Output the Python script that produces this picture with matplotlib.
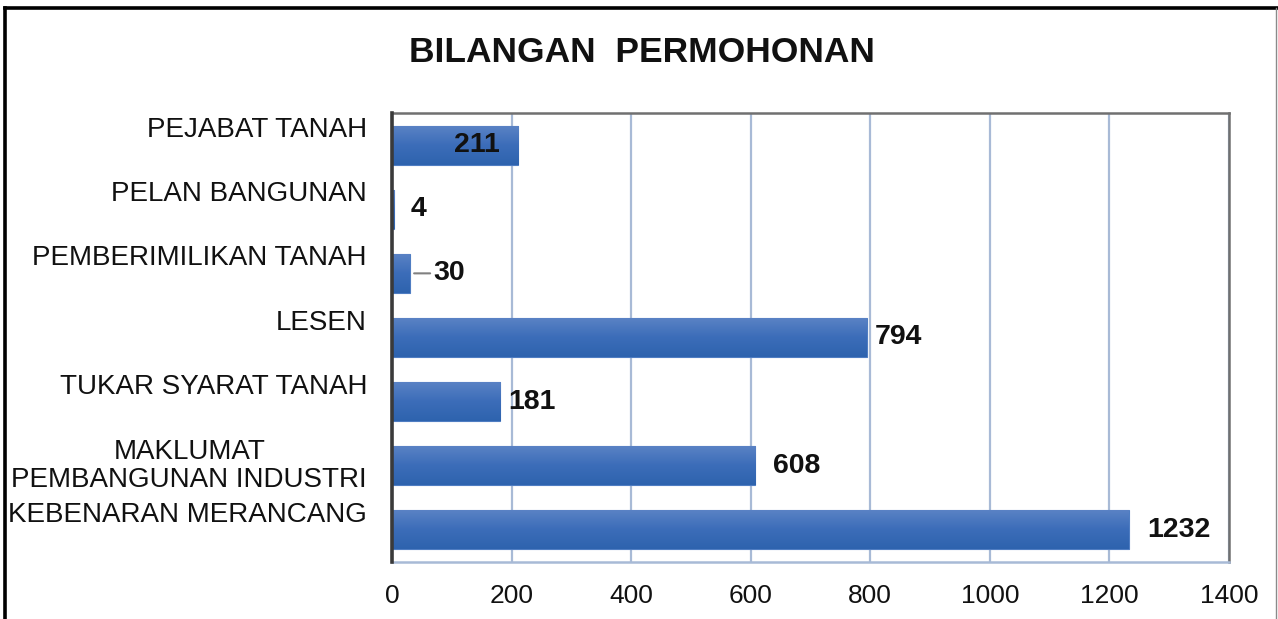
import matplotlib
matplotlib.use("Agg")
import matplotlib.pyplot as plt
from matplotlib.colors import LinearSegmentedColormap
from matplotlib.transforms import ScaledTranslation
from matplotlib.lines import Line2D
import numpy as np

# data, top to bottom as in the chart
categories = [
    "PEJABAT TANAH",
    "PELAN BANGUNAN",
    "PEMBERIMILIKAN TANAH",
    "LESEN",
    "TUKAR SYARAT TANAH",
    "MAKLUMAT\nPEMBANGUNAN INDUSTRI",
    "KEBENARAN MERANCANG",
]
values = [211, 4, 30, 794, 181, 608, 1232]
x_ticks = [0, 200, 400, 600, 800, 1000, 1200, 1400]
title = "BILANGAN  PERMOHONAN"

# label placement (pixels from bar end), style only
label_dx = [-18, 16, 23, 8, 8, 18, 19]

plt.rcParams["font.family"] = ["Liberation Sans", "DejaVu Sans"]

fig = plt.figure(figsize=(12.78, 6.19), dpi=100)
ax = fig.add_axes([392 / 1278, 57 / 619, 837 / 1278, 449 / 619])

n = len(categories)
ypos = np.arange(n)[::-1]  # first category at top

bars = ax.barh(ypos, values, height=0.61, color="#3a6cb8",
               edgecolor="#4f7dc2", linewidth=0.8, zorder=3)

# vertical gradient inside each bar, lighter on top
grad_cmap = LinearSegmentedColormap.from_list(
    "bar", ["#5b83c5", "#3c6db9", "#2e63ae"])
gradient = np.linspace(0, 1, 64).reshape(-1, 1)
for b in bars:
    x0, y0 = b.get_x(), b.get_y()
    w, h = b.get_width(), b.get_height()
    if w <= 0:
        continue
    im = ax.imshow(gradient, cmap=grad_cmap, aspect="auto",
                   extent=(x0, x0 + w, y0, y0 + h), origin="upper",
                   zorder=3.5, interpolation="bicubic")
    im.set_clip_path(b)

ax.set_xlim(0, 1400)
ax.set_ylim(-0.5, n - 0.5)

ax.set_xticks(x_ticks)
ax.set_xticklabels([str(t) for t in x_ticks])
ax.tick_params(axis="x", length=0, pad=16, labelsize=19, labelcolor="#111111")
ax.set_yticks(ypos)
ax.set_yticklabels([""] * n)
ax.tick_params(axis="y", length=0)

ax.grid(axis="x", color="#a8bad6", linewidth=1.6, zorder=1)
ax.set_axisbelow(True)

ax.spines["left"].set_color("#3a3a3a")
ax.spines["left"].set_linewidth(2.6)
ax.spines["top"].set_color("#707070")
ax.spines["top"].set_linewidth(1.8)
ax.spines["right"].set_color("#707070")
ax.spines["right"].set_linewidth(1.8)
ax.spines["bottom"].set_color("#a8bad6")
ax.spines["bottom"].set_linewidth(1.8)
ax.spines["left"].set_zorder(5)

# category labels, shifted up a little like the original
ytrans = ax.get_yaxis_transform()
for cat, y in zip(categories, ypos):
    multi = "\n" in cat
    dy = 0 if multi else 15
    off = ScaledTranslation(-25 / 100, dy / 100, fig.dpi_scale_trans)
    ax.text(0, y, cat, transform=ytrans + off, ha="right", va="center",
            multialignment="center", fontsize=20, color="#111111",
            linespacing=1.12)

# value labels
for v, y, dx in zip(values, ypos, label_dx):
    if dx < 0:
        ax.annotate(str(v), xy=(v, y), xytext=(dx, 0), textcoords="offset pixels",
                    ha="right", va="center", fontsize=20.5, fontweight="bold",
                    color="#111111", zorder=6)
    elif dx > 20:
        ax.annotate(str(v), xy=(v, y), xytext=(dx, 0), textcoords="offset pixels",
                    ha="left", va="center", fontsize=20.5, fontweight="bold",
                    color="#111111", zorder=6,
                    arrowprops=dict(arrowstyle="-", color="#808080", lw=1.5,
                                    shrinkA=0, shrinkB=3))
    else:
        ax.annotate(str(v), xy=(v, y), xytext=(dx, 0), textcoords="offset pixels",
                    ha="left", va="center", fontsize=20.5, fontweight="bold",
                    color="#111111", zorder=6)

fig.text(642 / 1278, 1 - 52 / 619, title, ha="center", va="center",
         fontsize=25.5, fontweight="bold", color="#111111")

# outer chart border
fig.add_artist(Line2D([5 / 1278, 1277 / 1278], [1 - 8 / 619, 1 - 8 / 619],
                      transform=fig.transFigure, color="black", linewidth=2.6))
fig.add_artist(Line2D([5 / 1278, 5 / 1278], [0, 1 - 8 / 619],
                      transform=fig.transFigure, color="black", linewidth=2.6))
fig.add_artist(Line2D([1276 / 1278, 1276 / 1278], [0, 1 - 8 / 619],
                      transform=fig.transFigure, color="#8a8a8a", linewidth=1.0))

fig.savefig("out.png", dpi=100, facecolor="white")
